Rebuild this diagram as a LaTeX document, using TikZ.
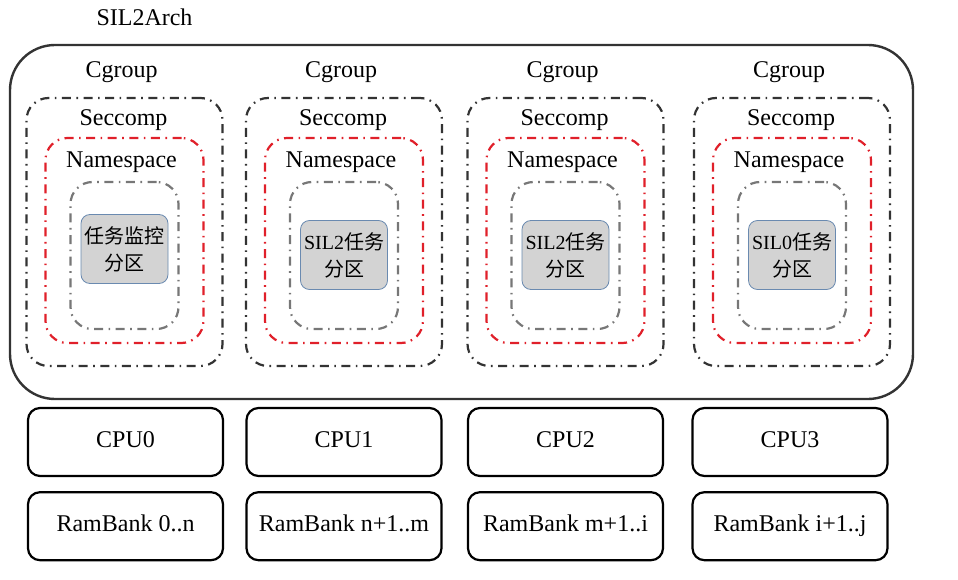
\documentclass[tikz,border=0pt]{standalone}
\usepackage{fontspec}
\setmainfont{Liberation Serif}
\newfontfamily\cjk{Noto Sans CJK SC}
\usepackage{tikz}
\usetikzlibrary{positioning}
\definecolor{darkline}{HTML}{333333}
\definecolor{redline}{HTML}{E0202A}
\definecolor{grayline}{HTML}{777777}
\definecolor{partfill}{HTML}{D3D3D3}
\definecolor{partline}{HTML}{6A8AB0}
\tikzset{
  % dash-dot frames
  dashdot frame/.style={draw=#1, line width=2.2pt, rounded corners=22pt,
    dash pattern=on 9pt off 5.5pt on 1.6pt off 5.5pt, inner sep=0pt},
  txt/.style={font=\fontsize{24}{28}\selectfont, inner sep=0pt,
    text height=16pt, text depth=5pt},
  partbox/.style={draw=partline, fill=partfill, line width=0.8pt, rounded corners=9pt,
    minimum width=87pt, minimum height=69pt, inner sep=0pt, align=center,
    font=\fontsize{20}{27}\selectfont},
  hwbox/.style={draw=black, line width=2.2pt, rounded corners=12pt,
    minimum width=195pt, minimum height=68pt, inner sep=0pt,
    text height=16pt, text depth=5pt,
    font=\fontsize{24}{28}\selectfont},
}
\begin{document}
\begin{tikzpicture}[x=1pt,y=-1pt]
  \useasboundingbox (0,0) rectangle (958,580);

  % outer frame
  \draw[darkline, line width=2.4pt, rounded corners=45pt] (10,45) rectangle (913,399);
  \node[txt] (arch) at (144.5,20) {SIL2Arch};

  % isolation layers per column
  \foreach \i/\x/\py/\lab in {0/124.5/249/{\cjk 任务监控}\\{\cjk 分区},
                             1/344/255/{SIL2\cjk 任务}\\{\cjk 分区},
                             2/565.5/255/{SIL2\cjk 任务}\\{\cjk 分区},
                             3/792/255/{SIL0\cjk 任务}\\{\cjk 分区}} {
    \node[dashdot frame=darkline, minimum width=196pt, minimum height=268pt] (cg\i) at (\x,232) {};
    \node[dashdot frame=redline, minimum width=158pt, minimum height=205pt] (rs\i) at (\x,240.5) {};
    \node[dashdot frame=grayline, minimum width=108pt, minimum height=147pt] (gs\i) at (\x,255.5) {};
    \node[partbox] (part\i) at (\x,\py) {\lab};
    \node[txt] (cglab\i) at (\x-3,72) {Cgroup};
    \node[txt] (sclab\i) at (\x-1,120) {Seccomp};
    \node[txt] (nslab\i) at (\x-3,162) {Namespace};
  }

  % hardware
  \foreach \i/\x/\ram in {0/125.5/{0..n}, 1/344/{n+1..m}, 2/565.5/{m+1..i}, 3/790/{i+1..j}} {
    \node[hwbox] (cpu\i) at (\x,442) {CPU\i};
    \node[hwbox, below=14pt of cpu\i] (ram\i) {RamBank \ram};
  }
\end{tikzpicture}
\end{document}
